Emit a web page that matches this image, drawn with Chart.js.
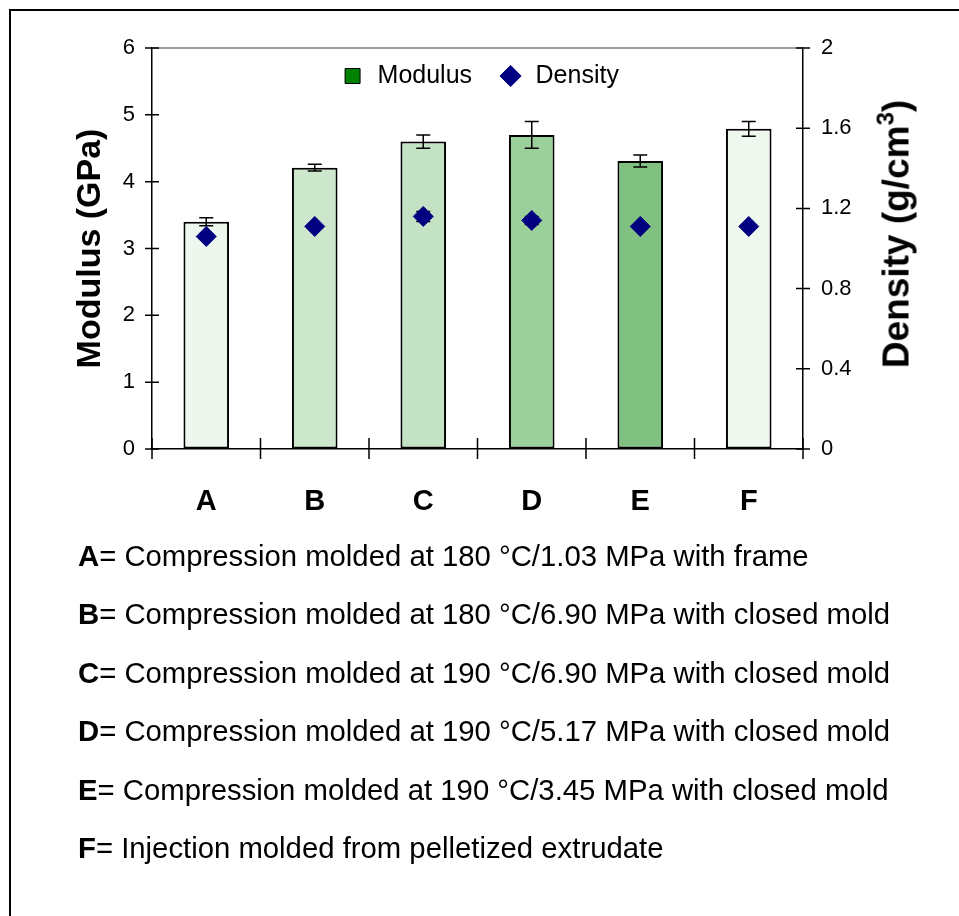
<!DOCTYPE html>
<html><head><meta charset="utf-8">
<script src="https://cdn.jsdelivr.net/npm/chart.js@4.4.1/dist/chart.umd.min.js"></script>
<style>
html,body{margin:0;padding:0;background:#fff;width:959px;height:916px;overflow:hidden;font-family:'Liberation Sans',Arial,sans-serif;color:#000;}
#frame{position:absolute;left:9px;top:9px;width:2000px;height:2000px;border-left:2px solid #000;border-top:2px solid #000;}
#c{position:absolute;left:0;top:0;}
#ytitle2{position:absolute;left:896px;top:234px;transform:translate(-50%,-50%) rotate(-90deg);font-weight:bold;font-size:37px;line-height:1;white-space:nowrap;}
#ytitle2 sup{font-size:24px;line-height:0;vertical-align:15px;}
#notes{position:absolute;left:78px;top:527px;font-size:29.3px;line-height:58.4px;white-space:nowrap;}
</style>
</head><body>
<div id="frame"></div>
<canvas id="c" width="959" height="530"></canvas>
<div id="ytitle2">Density (g/cm<sup>3</sup>)</div>
<div id="notes"></div>
<script>
// ---- data ----
const categories = ['A','B','C','D','E','F'];
const modulus    = [3.40, 4.21, 4.60, 4.70, 4.31, 4.79];
const modulusErr = [0.06, 0.05, 0.10, 0.20, 0.09, 0.11];
const density    = [1.06, 1.11, 1.16, 1.14, 1.11, 1.11];
const densityErr = [0, 0, 0.025, 0.02, 0.012, 0];
const yTickLabels  = ['0','1','2','3','4','5','6'];
const y1TickLabels = ['0','0.4','0.8','1.2','1.6','2'];
const barColors = ['#edf7ed','#cce7cc','#c4e2c4','#9bd09b','#80c080','#eff8ef'];
const noteTexts = [
  '= Compression molded at 180 °C/1.03 MPa with frame',
  '= Compression molded at 180 °C/6.90 MPa with closed mold',
  '= Compression molded at 190 °C/6.90 MPa with closed mold',
  '= Compression molded at 190 °C/5.17 MPa with closed mold',
  '= Compression molded at 190 °C/3.45 MPa with closed mold',
  '= Injection molded from pelletized extrudate'
];

// notes text
const notes = document.getElementById('notes');
categories.forEach((k,i)=>{
  const d = document.createElement('div');
  const b = document.createElement('b'); b.textContent = k;
  d.appendChild(b); d.appendChild(document.createTextNode(noteTexts[i]));
  notes.appendChild(d);
});

Chart.defaults.font.family = "'Liberation Sans', Arial, sans-serif";
Chart.defaults.color = '#000';

const axisPlugin = {
  id:'axisTicks',
  afterLayout(chart){
    const lg = chart.legend;
    if(lg){ lg.top = 37.5; lg.height = 60; lg.bottom = lg.top + 60; }
  },
  afterDatasetsDraw(chart){
    const {ctx, chartArea:a, scales:{x,y,y1}} = chart;
    ctx.save();
    ctx.strokeStyle='#808080'; ctx.lineWidth=1.5;
    ctx.beginPath(); ctx.moveTo(a.left,a.top); ctx.lineTo(a.right,a.top); ctx.stroke();
    ctx.strokeStyle='#000'; ctx.lineWidth=1.5;
    ctx.beginPath();
    y.ticks.forEach(t=>{const p=y.getPixelForValue(t.value); ctx.moveTo(a.left-7,p); ctx.lineTo(a.left+7,p);});
    y1.ticks.forEach(t=>{const p=y1.getPixelForValue(t.value); ctx.moveTo(a.right-7,p); ctx.lineTo(a.right+7,p);});
    const w = x.getPixelForValue(1)-x.getPixelForValue(0);
    for(let i=0;i<=categories.length;i++){
      const p = x.getPixelForValue(0)-w/2+i*w;
      ctx.moveTo(p,a.bottom-11); ctx.lineTo(p,a.bottom+10);
    }
    ctx.stroke();
    ctx.restore();
  }
};

function drawErr(chart, vals, errs, sc){
  const {ctx, scales:{x}} = chart;
  ctx.save(); ctx.strokeStyle='#000'; ctx.lineWidth=1.5; ctx.beginPath();
  vals.forEach((v,i)=>{
    const e=errs[i]; if(!e) return;
    const px=x.getPixelForValue(i);
    const t=sc.getPixelForValue(v+e), b=sc.getPixelForValue(v-e);
    ctx.moveTo(px,t); ctx.lineTo(px,b);
    ctx.moveTo(px-7,t); ctx.lineTo(px+7,t);
    ctx.moveTo(px-7,b); ctx.lineTo(px+7,b);
  });
  ctx.stroke(); ctx.restore();
}
const errPlugin = {
  id:'errBars',
  afterDatasetDraw(chart,args){ if(args.index===0) drawErr(chart, modulus, modulusErr, chart.scales.y); },
  beforeDatasetDraw(chart,args){ if(args.index===1) drawErr(chart, density, densityErr, chart.scales.y1); }
};

new Chart(document.getElementById('c'), {
  type:'bar',
  data:{
    labels: categories,
    datasets:[
      {type:'bar', label:'Modulus', data: modulus, yAxisID:'y', order:2,
       backgroundColor: barColors, borderColor:'#000', borderWidth:2, borderSkipped:false,
       barPercentage:0.42, categoryPercentage:1},
      {type:'line', label:'Density', data: density, yAxisID:'y1', order:1, showLine:false,
       pointStyle:'rectRot', pointRadius:10, pointHoverRadius:10,
       backgroundColor:'#000080', borderColor:'#000080', pointBorderWidth:1}
    ]
  },
  options:{
    responsive:false, animation:false, devicePixelRatio:1,
    layout:{padding:{top:28,left:0,right:0,bottom:0}},
    plugins:{
      tooltip:{enabled:false},
      legend:{
        position:'top', align:'center', maxHeight:20,
        labels:{
          usePointStyle:true, boxHeight:15, padding:26, color:'#000', font:{size:25},
          generateLabels:()=>[
            {text:'Modulus', fillStyle:'#008000', strokeStyle:'#000', lineWidth:1, pointStyle:'rect', datasetIndex:0, hidden:false, fontColor:'#000'},
            {text:'Density', fillStyle:'#000080', strokeStyle:'#000080', lineWidth:1, pointStyle:'rectRot', datasetIndex:1, hidden:false, fontColor:'#000'}
          ]
        }
      }
    },
    scales:{
      x:{
        type:'category', offset:true,
        grid:{display:true, drawOnChartArea:false, drawTicks:true, tickLength:10, tickColor:'rgba(0,0,0,0)'},
        border:{color:'#000', width:1.5},
        ticks:{font:{size:29, weight:'bold'}, color:'#000', padding:26, maxRotation:0},
        afterFit(s){ s.height = 81; }
      },
      y:{
        position:'left', min:0, max:6,
        grid:{display:true, drawOnChartArea:false, drawTicks:true, tickLength:7, tickColor:'rgba(0,0,0,0)'},
        border:{color:'#000', width:1.5},
        ticks:{stepSize:1, font:{size:22}, color:'#000', padding:10, callback:(v,i)=>yTickLabels[i]},
        title:{display:true, text:'Modulus (GPa)', color:'#000', font:{size:34, weight:'bold'}, padding:{top:70, bottom:0}},
        afterFit(s){ s.width = 152; }
      },
      y1:{
        position:'right', min:0, max:2,
        grid:{display:true, drawOnChartArea:false, drawTicks:true, tickLength:7, tickColor:'rgba(0,0,0,0)'},
        border:{color:'#000', width:1.5},
        ticks:{stepSize:0.4, font:{size:22}, color:'#000', padding:11, callback:(v,i)=>y1TickLabels[i]},
        afterFit(s){ s.width = 156; }
      }
    }
  },
  plugins:[axisPlugin, errPlugin]
});
</script>
</body></html>
